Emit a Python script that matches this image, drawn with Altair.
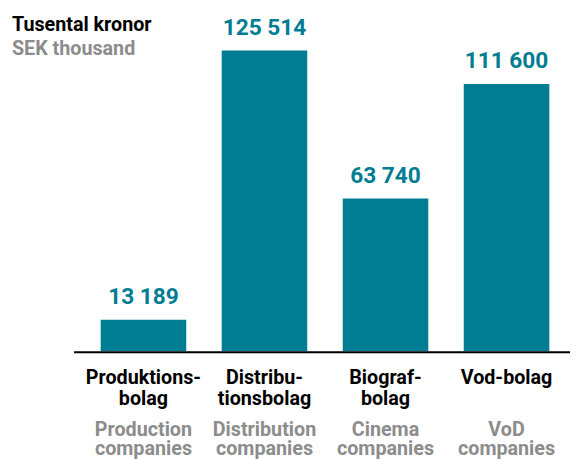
import altair as alt
import pandas as pd

categories = ["Produktionsbolag", "Distributionsbolag", "Biografbolag", "Vod-bolag"]
values = [13189, 125514, 63740, 111600]
sv_labels = ["Produktions-\nbolag", "Distribu-\ntionsbolag", "Biograf-\nbolag", "Vod-bolag"]
en_labels = ["Production\ncompanies", "Distribution\ncompanies", "Cinema\ncompanies", "VoD\ncompanies"]
title_sv = "Tusental kronor"
title_en = "SEK thousand"

TEAL = "#007D93"
GREY = "#8C8C8C"
FONT = "Roboto"

df = pd.DataFrame({
    "cat": categories,
    "value": values,
    "label": [f"{v:,}".replace(",", " ") for v in values],
    "sv": sv_labels,
    "en": en_labels,
})

W, H = 491, 313

x = alt.X("cat:N", sort=categories, axis=None,
          scale=alt.Scale(paddingInner=0.293, paddingOuter=0.1465))
y = alt.Y("value:Q", axis=None, scale=alt.Scale(domain=[0, 128806], nice=False, zero=True))

base = alt.Chart(df)

bars = base.mark_bar(color=TEAL).encode(x=x, y=y)

vals = base.mark_text(baseline="alphabetic", dy=-16, fontSize=23, fontWeight="bold",
                      font=FONT, color=TEAL).encode(x=x, y=y, text="label:N")

sv = base.mark_text(baseline="alphabetic", lineBreak="\n", lineHeight=21.5, fontSize=20,
                    fontWeight="bold", font=FONT, color="#000000").encode(
    x=x, y=alt.value(346), text="sv:N")

en = base.mark_text(baseline="alphabetic", lineBreak="\n", lineHeight=19, fontSize=20,
                    fontWeight="bold", font=FONT, color=GREY).encode(
    x=x, y=alt.value(399), text="en:N")

axis_line = alt.Chart(pd.DataFrame({"a": [0]})).mark_rule(color="#000000", strokeWidth=2).encode(
    x=alt.value(-9), x2=alt.value(W + 3), y=alt.value(314))

t1 = alt.Chart(pd.DataFrame({"t": [title_sv]})).mark_text(
    align="left", baseline="alphabetic", fontSize=20, fontWeight="bold", font=FONT, color="#000000"
).encode(x=alt.value(-72), y=alt.value(-12), text="t:N")

t2 = alt.Chart(pd.DataFrame({"t": [title_en]})).mark_text(
    align="left", baseline="alphabetic", fontSize=20, fontWeight="bold", font=FONT, color=GREY
).encode(x=alt.value(-72), y=alt.value(12), text="t:N")

chart = alt.layer(bars, vals, axis_line, sv, en, t1, t2).properties(
    width=W, height=H,
    autosize=alt.AutoSizeParams(type="none"),
    padding={"left": 76, "top": 32, "right": 4, "bottom": 106},
).configure_view(stroke=None)

chart.save("out.html", embed_options={"renderer": "svg", "actions": False})
